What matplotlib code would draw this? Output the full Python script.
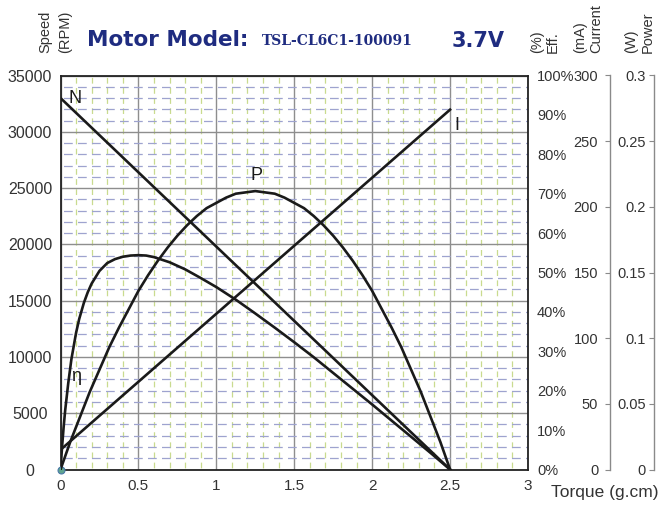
import matplotlib
matplotlib.use('Agg')
import matplotlib.pyplot as plt
from matplotlib.ticker import MultipleLocator, FuncFormatter

# ---------------- data ----------------
torque_lin = [0, 2.5]
speed_rpm = [33000, 0]
current_ma = [15, 274]

torque_p = [0, 0.0625, 0.125, 0.1875, 0.25, 0.3125, 0.375, 0.4375, 0.5, 0.5625,
            0.625, 0.6875, 0.75, 0.8125, 0.875, 0.9375, 1.0, 1.0625, 1.125, 1.1875,
            1.25, 1.3125, 1.375, 1.4375, 1.5, 1.5625, 1.625, 1.6875, 1.75, 1.8125,
            1.875, 1.9375, 2.0, 2.0625, 2.125, 2.1875, 2.25, 2.3125, 2.375, 2.4375, 2.5]
power_w = [0, 0.021, 0.040, 0.059, 0.076, 0.093, 0.108, 0.122, 0.136, 0.148,
           0.159, 0.169, 0.178, 0.186, 0.193, 0.199, 0.203, 0.207, 0.210, 0.211,
           0.212, 0.211, 0.210, 0.207, 0.203, 0.199, 0.193, 0.186, 0.178, 0.169,
           0.159, 0.148, 0.136, 0.122, 0.108, 0.093, 0.076, 0.059, 0.040, 0.021, 0]

torque_e = [0, 0.01, 0.02, 0.03, 0.05, 0.07, 0.1, 0.12, 0.15, 0.175, 0.2, 0.25, 0.3,
            0.35, 0.4, 0.45, 0.5, 0.55, 0.6, 0.7, 0.8, 0.9, 1.0, 1.125, 1.25, 1.375,
            1.5, 1.625, 1.75, 1.875, 2.0, 2.125, 2.25, 2.375, 2.5]
eff_pct = [0, 5.7, 10.7, 15, 22, 28, 34.7, 38.2, 42.3, 45.0, 47.2, 50.4, 52.4,
           53.4, 54.0, 54.3, 54.4, 54.3, 53.9, 52.6, 50.8, 48.6, 46.3, 43.1, 39.6,
           36.0, 32.3, 28.5, 24.5, 20.5, 16.5, 12.4, 8.3, 4.2, 0]

x_ticks = [0, 0.5, 1, 1.5, 2, 2.5, 3]
speed_ticks = [0, 5000, 10000, 15000, 20000, 25000, 30000, 35000]
eff_ticks = [0, 10, 20, 30, 40, 50, 60, 70, 80, 90, 100]
current_ticks = [0, 50, 100, 150, 200, 250, 300]
power_ticks = [0, 0.05, 0.1, 0.15, 0.2, 0.25, 0.3]

# ---------------- style ----------------
W, H = 659, 505
plt.rcParams['font.family'] = ['Liberation Sans', 'DejaVu Sans']
TXT = '#333333'
NAVY = '#1f2c80'
CURVE = '#1a1a1a'
PX = 0.72  # points per pixel at dpi 100

fig = plt.figure(figsize=(W / 100, H / 100), dpi=100)
L, R, T, B = 60.5, 528, 75.5, 469.5
ax = fig.add_axes([L / W, 1 - B / H, (R - L) / W, (B - T) / H])

ax.set_xlim(0, 3)
ax.set_ylim(0, 35000)
ax.set_xticks(x_ticks)
ax.set_xticklabels(['0', '0.5', '1', '1.5', '2', '2.5', '3'])
ax.set_yticks(speed_ticks)
ax.xaxis.set_minor_locator(MultipleLocator(0.1))
ax.yaxis.set_minor_locator(MultipleLocator(1000))
ax.tick_params(which='both', length=0)
ax.tick_params(axis='x', pad=7, labelsize=11, labelcolor=TXT)
ax.tick_params(axis='y', pad=(L - 30) * PX, labelsize=11.5, labelcolor=TXT)
for lbl in ax.get_yticklabels():
    lbl.set_horizontalalignment('center')

ax.grid(which='major', color='#8e8e8e', lw=1.0)
ax.grid(which='minor', axis='y', color='#9ea3cf', lw=0.9, linestyle=(9.2, (7.0, 4.2)))
ax.grid(which='minor', axis='x', color='#c9db8f', lw=0.9, linestyle=(6.4, (4.6, 3.5)))
ax.set_axisbelow(True)
for s in ax.spines.values():
    s.set_color('#222222')
    s.set_linewidth(1.3)

ax.plot(torque_lin, speed_rpm, color=CURVE, lw=1.9, zorder=3)

# efficiency axis
ax_e = ax.twinx()
ax_e.set_ylim(0, 100)
ax_e.set_yticks(eff_ticks)
ax_e.yaxis.set_major_formatter(FuncFormatter(lambda v, p: f'{int(v)}%'))
ax_e.tick_params(length=0, pad=6.5, labelsize=10.5, labelcolor=TXT)
for s in ax_e.spines.values():
    s.set_visible(False)
ax_e.plot(torque_e, eff_pct, color=CURVE, lw=1.9)

# current axis
ax_c = ax.twinx()
ax_c.set_ylim(0, 300)
ax_c.set_yticks(current_ticks)
for s in ax_c.spines.values():
    s.set_visible(False)
ax_c.yaxis.tick_left()
ax_c.spines['left'].set_visible(True)
ax_c.spines['left'].set_position(('axes', (609.5 - L) / (R - L)))
ax_c.spines['left'].set_color('#8a8a8a')
ax_c.spines['left'].set_linewidth(1.0)
ax_c.tick_params(direction='out', length=3.6, width=0.8, color='#8a8a8a', pad=4.5,
                 labelsize=10.5, labelcolor=TXT)
ax_c.plot(torque_lin, current_ma, color=CURVE, lw=1.9)

# power axis
ax_p = ax.twinx()
ax_p.set_ylim(0, 0.3)
ax_p.set_yticks(power_ticks)
ax_p.set_yticklabels(['0', '0.05', '0.1', '0.15', '0.2', '0.25', '0.3'])
for s in ax_p.spines.values():
    s.set_visible(False)
ax_p.yaxis.tick_left()
ax_p.spines['left'].set_visible(True)
ax_p.spines['left'].set_position(('axes', (654 - L) / (R - L)))
ax_p.spines['left'].set_color('#8a8a8a')
ax_p.spines['left'].set_linewidth(1.0)
ax_p.tick_params(direction='out', length=3.6, width=0.8, color='#8a8a8a', pad=2.2,
                 labelsize=10.5, labelcolor=TXT)
ax_p.plot(torque_p, power_w, color=CURVE, lw=1.9)

# origin dot
ax.plot([0], [0], 'o', ms=5, mfc='#5fa58f', mec='#4a78a8', mew=0.8, clip_on=False, zorder=5)

# curve labels
ax.text(0.05, 33000, 'N', fontsize=13, color=CURVE, ha='left', va='center', zorder=6)
ax_p.text(1.26, 0.2175, 'P', fontsize=13, color=CURVE, ha='center', va='bottom')
ax_c.text(2.53, 262, 'I', fontsize=13, color=CURVE, ha='left', va='center')
ax_e.text(0.065, 23.5, 'η', fontsize=13, color=CURVE, ha='left', va='center')

# axis titles
for x, s in [(45.5, 'Speed'), (65, '(RPM)'), (537, '(%)'), (553, 'Eff.'),
             (580, '(mA)'), (596, 'Current'), (631, '(W)'), (648, 'Power')]:
    fig.text(x / W, 1 - 53 / H, s, rotation=90, fontsize=10.5, color=TXT,
             ha='center', va='bottom')

fig.text(551 / W, 1 - 493 / H, 'Torque (g.cm)', fontsize=12.5, color=TXT,
         ha='left', va='center')

# title
fig.text(87 / W, 1 - 46 / H, 'Motor Model:', fontsize=15.5, fontweight='bold', color=NAVY,
         family=['DejaVu Sans'], ha='left', va='baseline')
fig.text(262 / W, 1 - 45 / H, 'TSL-CL6C1-100091', fontsize=10, fontweight='bold',
         color=NAVY, family=['DejaVu Serif'], ha='left', va='baseline')
fig.text(452 / W, 1 - 47 / H, '3.7V', fontsize=15, fontweight='bold', color=NAVY,
         family=['DejaVu Sans'], ha='left', va='baseline')

fig.savefig('out.png', dpi=100)
